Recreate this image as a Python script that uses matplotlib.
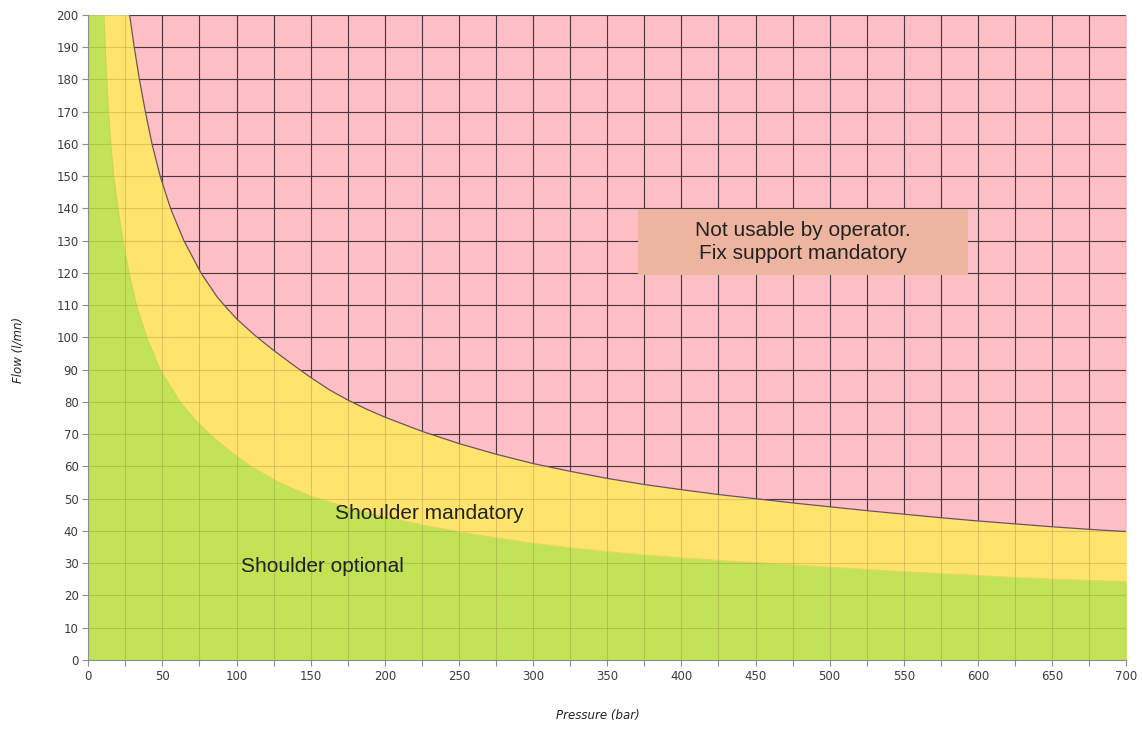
import matplotlib
matplotlib.use("Agg")
import matplotlib.pyplot as plt
from matplotlib.patches import Rectangle
import numpy as np

# ── boundary curves (pressure in bar, flow in l/mn) ────────────────────────
upper_p = [27.9, 31, 34.5, 38.5, 43, 48.5, 55.5, 64.5, 76, 87, 93, 100, 112.5, 125,
           137.5, 150, 162.5, 175, 187.5, 200, 225, 250, 275, 300, 325, 350, 375,
           400, 425, 450, 475, 500, 525, 550, 575, 600, 625, 650, 675, 700]
upper_q = [200, 190, 180, 170, 160, 150, 140, 130, 120, 112.5, 109.3, 105.8, 100.6, 96,
           91.7, 87.6, 83.8, 80.6, 77.8, 75.3, 70.9, 67.1, 63.8, 60.9, 58.5, 56.3, 54.4,
           52.8, 51.3, 50.0, 48.7, 47.5, 46.3, 45.2, 44.1, 43.1, 42.2, 41.3, 40.5, 39.8]

lower_p = [10.6, 11.5, 12.5, 13.7, 15.2, 17.2, 20, 23.4, 27.5, 32.5, 39.5, 48.5, 62,
           71, 82, 95, 110, 128, 150, 175, 200, 225, 250, 275, 300, 325, 350, 375,
           400, 425, 450, 475, 500, 525, 550, 575, 600, 625, 650, 675, 700]
lower_q = [200, 190, 180, 170, 160, 150, 140, 130, 120, 110, 100, 90, 80,
           75, 70, 65, 60, 55.2, 50.8, 47.3, 44.4, 41.9, 39.8, 37.9, 36.2, 34.8, 33.6, 32.6,
           31.7, 30.9, 30.2, 29.5, 28.8, 28.1, 27.4, 26.8, 26.2, 25.6, 25.1, 24.7, 24.3]

P_MAX, Q_MAX = 700, 200

PINK = '#FDBEC5'
YELLOW = '#FEE46C'
GREEN = '#C2E356'
BOX = '#EDB4A0'

fig = plt.figure(figsize=(11.42, 7.29), dpi=100)
ax = fig.add_axes([0.0773, 0.0947, 0.9089, 0.8848])

up_p = np.array(upper_p, dtype=float)
up_q = np.array(upper_q, dtype=float)
lo_p = np.array(lower_p, dtype=float)
lo_q = np.array(lower_q, dtype=float)

# zones
pink = ax.fill_between(up_p, up_q, Q_MAX, color=PINK, lw=0, zorder=1)
ax.fill_between(np.r_[0, up_p], 0, np.r_[Q_MAX, up_q], color=YELLOW, lw=0, zorder=1)
ax.fill_between(np.r_[0, lo_p], 0, np.r_[Q_MAX, lo_q], color=GREEN, lw=0, zorder=1)

# faint grid everywhere, dark grid only in the pink zone
xg = np.arange(0, P_MAX + 1, 25)
yg = np.arange(0, Q_MAX + 1, 10)
ax.vlines(xg, 0, Q_MAX, colors='#8a7a40', lw=0.8, alpha=0.3, zorder=2)
ax.hlines(yg, 0, P_MAX, colors='#8a7a40', lw=0.8, alpha=0.3, zorder=2)
clip = pink.get_paths()[0]
vl = ax.vlines(xg, 0, Q_MAX, colors='#4a383f', lw=0.8, zorder=2)
hl = ax.hlines(yg, 0, P_MAX, colors='#4a383f', lw=0.8, zorder=2)
vl.set_clip_path(clip, ax.transData)
hl.set_clip_path(clip, ax.transData)

ax.plot(up_p, up_q, color='#6e5262', lw=0.9, zorder=3)
ax.plot(lo_p, lo_q, color='#d8c050', lw=0.6, alpha=0.5, zorder=3)

# labels in the zones
ax.add_patch(Rectangle((370.8, 119.4), 222.7, 20.4, facecolor=BOX, edgecolor='none', zorder=4))
ax.text(482, 129.6, 'Not usable by operator.\nFix support mandatory', ha='center', va='center',
        fontsize=15, family='Liberation Sans', color='#222222', linespacing=1.25, zorder=5)
ax.text(166.5, 45.3, 'Shoulder mandatory', ha='left', va='center',
        fontsize=15, family='Liberation Sans', color='#222222', zorder=5)
ax.text(103, 29.1, 'Shoulder optional', ha='left', va='center',
        fontsize=15, family='Liberation Sans', color='#222222', zorder=5)

ax.set_xlim(0, P_MAX)
ax.set_ylim(0, Q_MAX)
ax.set_xticks(np.arange(0, P_MAX + 1, 50))
ax.set_xticks(xg, minor=True)
ax.set_yticks(yg)
ax.tick_params(axis='both', which='both', direction='out', length=4, width=0.8,
               color='#8c8c8c', labelsize=8.5, labelcolor='#3c3c3c', pad=3)
for s in ['top', 'right']:
    ax.spines[s].set_visible(False)
for s in ['left', 'bottom']:
    ax.spines[s].set_color('#8c8c8c')
    ax.spines[s].set_linewidth(0.8)
    ax.spines[s].set_zorder(6)

fig.text(598 / 1142, 1 - 716 / 729, 'Pressure (bar)', fontsize=8.5, style='italic',
         color='#222222', ha='center', va='center')
fig.text(18 / 1142, 1 - 350 / 729, 'Flow (l/mn)', fontsize=8.5, style='italic',
         color='#222222', ha='center', va='center', rotation=90)

fig.savefig('out.png', dpi=100, facecolor='white')
